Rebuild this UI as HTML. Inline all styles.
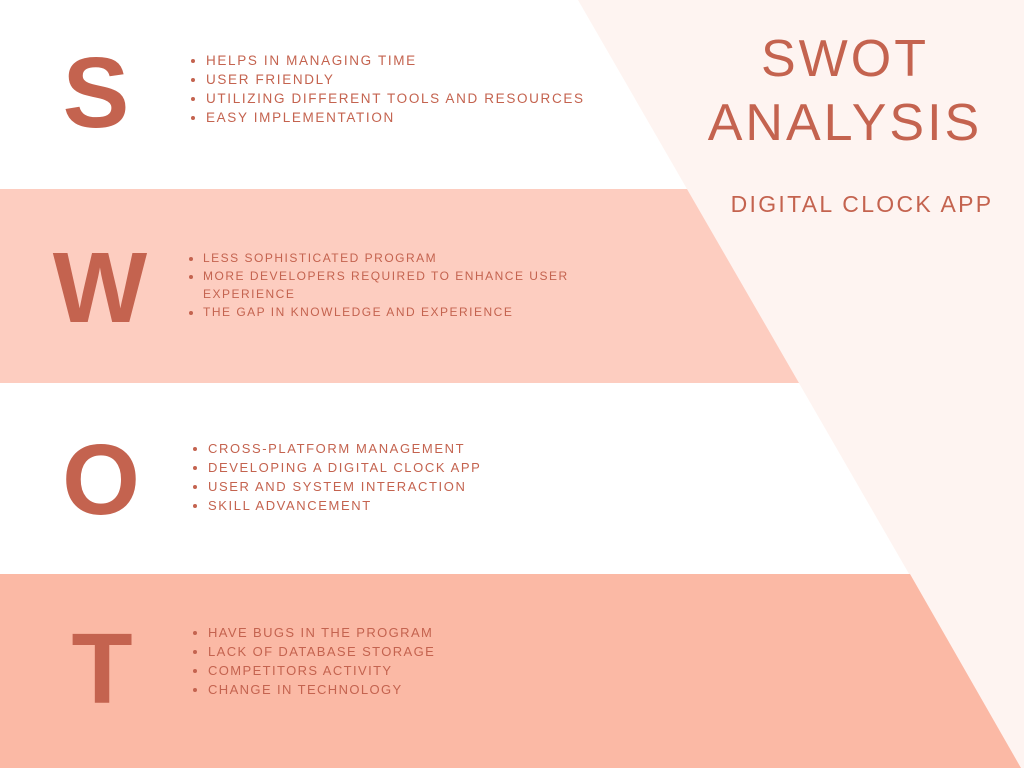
<!DOCTYPE html>
<html><head><meta charset="utf-8"><style>
body{margin:0;width:1024px;height:768px;overflow:hidden;position:relative;background:#fff;font-family:"Liberation Sans",sans-serif;color:#c4634f}
svg{position:absolute;left:0;top:0}
.L{position:absolute;font-weight:bold;font-size:100px;line-height:1;text-align:center;width:120px}
ul{position:absolute;margin:0;padding:0 0 0 18px;font-size:13.5px;letter-spacing:1.65px;line-height:19px;list-style:disc}
.t{position:absolute;letter-spacing:3px;text-align:center}
</style></head><body>
<svg width="1024" height="768">
<polygon points="578,0 1024,0 1024,768 1021,768" fill="#fef4f1"/>
<polygon points="0,189 687,189 799,383 0,383" fill="#fdcdc0"/>
<polygon points="0,574 910,574 1021,768 0,768" fill="#fbb9a5"/>
</svg>
<div class="L" style="left:36px;top:43px">S</div>
<div class="L" style="left:40px;top:238px">W</div>
<div class="L" style="left:41px;top:430px">O</div>
<div class="L" style="left:42px;top:619px">T</div>
<ul style="left:188px;top:51px">
<li>HELPS IN MANAGING TIME</li><li>USER FRIENDLY</li><li>UTILIZING DIFFERENT TOOLS AND RESOURCES</li><li>EASY IMPLEMENTATION</li></ul>
<ul style="left:185px;top:249px;width:380px;line-height:18px;font-size:12px;letter-spacing:1.5px">
<li>LESS SOPHISTICATED PROGRAM</li><li>MORE DEVELOPERS REQUIRED TO ENHANCE USER EXPERIENCE</li><li>THE GAP IN KNOWLEDGE AND EXPERIENCE</li></ul>
<ul style="left:190px;top:439px;font-size:13px;letter-spacing:1.6px">
<li>CROSS-PLATFORM MANAGEMENT</li><li>DEVELOPING A DIGITAL CLOCK APP</li><li>USER AND SYSTEM INTERACTION</li><li>SKILL ADVANCEMENT</li></ul>
<ul style="left:190px;top:623px;font-size:13px;letter-spacing:1.4px">
<li>HAVE BUGS IN THE PROGRAM</li><li>LACK OF DATABASE STORAGE</li><li>COMPETITORS ACTIVITY</li><li>CHANGE IN TECHNOLOGY</li></ul>
<div class="t" style="left:680px;top:27px;width:330px;font-size:52px;line-height:64px">SWOT<br>ANALYSIS</div>
<div class="t" style="left:697px;top:191px;width:330px;font-size:23px;letter-spacing:2.3px">DIGITAL CLOCK APP</div>
</body></html>
